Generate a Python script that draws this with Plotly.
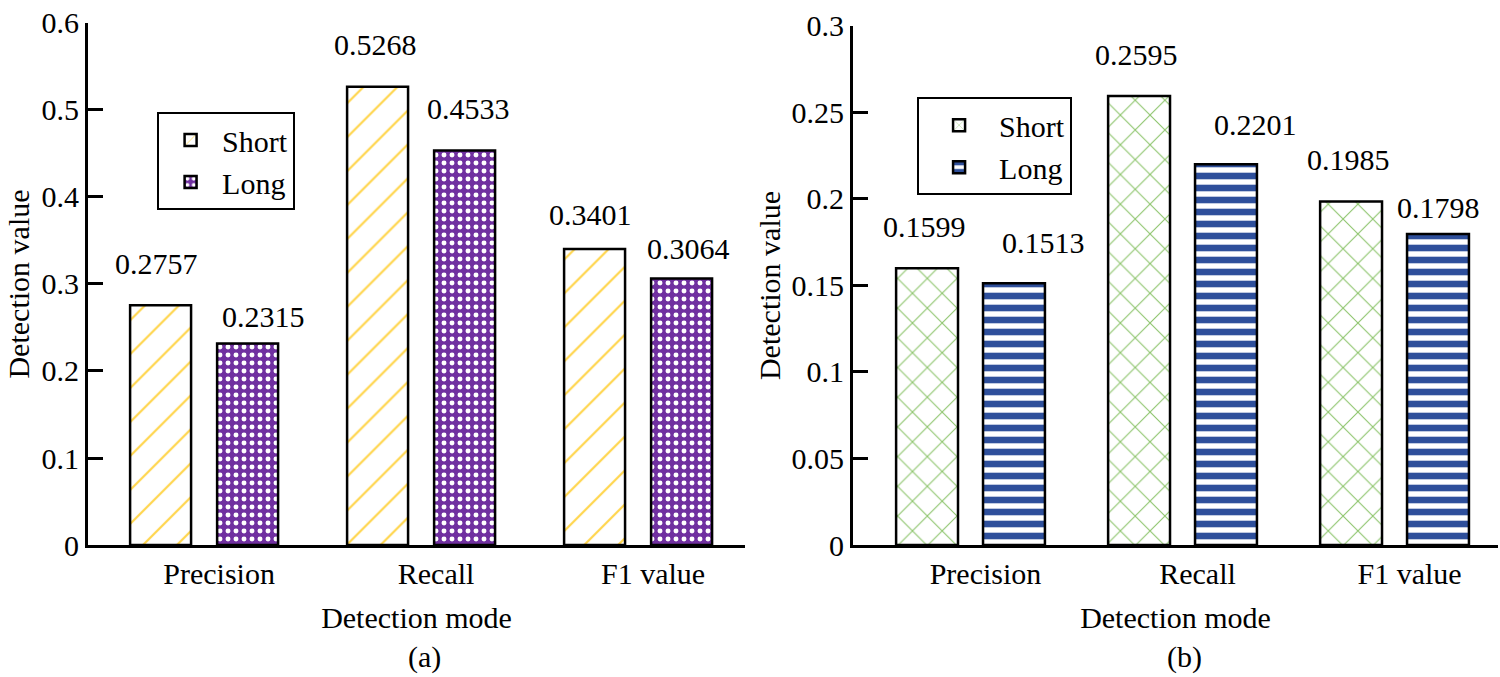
import plotly.graph_objects as go

# ---------------- data ----------------
categories = ["Precision", "Recall", "F1 value"]
series_names = ["Short", "Long"]

short_a = [0.2757, 0.5268, 0.3401]
long_a = [0.2315, 0.4533, 0.3064]

short_b = [0.1599, 0.2595, 0.1985]
long_b = [0.1513, 0.2201, 0.1798]

yticks_a = [0, 0.1, 0.2, 0.3, 0.4, 0.5, 0.6]
yticks_a_text = ["0", "0.1", "0.2", "0.3", "0.4", "0.5", "0.6"]
yticks_b = [0, 0.05, 0.1, 0.15, 0.2, 0.25, 0.3]
yticks_b_text = ["0", "0.05", "0.1", "0.15", "0.2", "0.25", "0.3"]

# label placement tweaks (pixels): (xshift from bar centre, yshift above bar top)
lab_short_a = [(-4, 42), (-2, 42), (-4, 35)]
lab_long_a = [(16, 27), (4, 42), (7, 30)]
lab_short_b = [(-3, 42), (-3, 42), (-3, 42)]
lab_long_b = [(29, 41), (29, 40), (0, 26)]

FONT = "'Liberation Serif', 'Times New Roman', serif"
FS = 30
BAR_HALF_SEP = 43.5  # px from category centre to each bar centre

fig = go.Figure()

line = dict(color="black", width=2.5)

fig.add_trace(go.Bar(
    x=categories, y=short_a, name=series_names[0], xaxis="x", yaxis="y",
    width=0.281, offset=-0.341,
    marker=dict(color="white", line=line,
                pattern=dict(shape="/", bgcolor="white", fgcolor="#FFD54A",
                             size=24, solidity=0.09, fillmode="replace")),
    legend="legend",
))
fig.add_trace(go.Bar(
    x=categories, y=long_a, name=series_names[1], xaxis="x", yaxis="y",
    width=0.281, offset=0.06,
    marker=dict(color="#7030A0", line=line,
                pattern=dict(shape=".", bgcolor="#7030A0", fgcolor="white",
                             size=8, solidity=0.3, fillmode="replace")),
    legend="legend",
))
fig.add_trace(go.Bar(
    x=categories, y=short_b, name=series_names[0], xaxis="x2", yaxis="y2",
    width=0.292, offset=-0.351,
    marker=dict(color="white", line=line,
                pattern=dict(shape="x", bgcolor="white", fgcolor="#8CC46A",
                             size=21, solidity=0.1, fillmode="replace")),
    legend="legend2",
))
fig.add_trace(go.Bar(
    x=categories, y=long_b, name=series_names[1], xaxis="x2", yaxis="y2",
    width=0.292, offset=0.059,
    marker=dict(color="#2E4F9B", line=line,
                pattern=dict(shape="-", bgcolor="white", fgcolor="#2E4F9B",
                             size=12, solidity=0.55, fillmode="replace")),
    legend="legend2",
))

annotations = []


def add_labels(vals, tweaks, side, xref, yref):
    for cat, v, (dx, dy) in zip(categories, vals, tweaks):
        annotations.append(dict(
            x=cat, y=v, xref=xref, yref=yref, text=f"{v:.4f}",
            showarrow=False, xanchor="center", yanchor="middle",
            xshift=side * BAR_HALF_SEP + dx, yshift=dy,
            font=dict(family=FONT, size=FS, color="black"),
        ))


add_labels(short_a, lab_short_a, -1, "x", "y")
add_labels(long_a, lab_long_a, 1, "x", "y")
add_labels(short_b, lab_short_b, -1, "x2", "y2")
add_labels(long_b, lab_long_b, 1, "x2", "y2")

for txt, px in [("(a)", 0.239), ("(b)", 0.778)]:
    annotations.append(dict(
        x=px, y=-0.213, xref="paper", yref="paper", text=txt, showarrow=False,
        xanchor="center", yanchor="middle",
        font=dict(family=FONT, size=FS, color="black"),
    ))

axis_common = dict(showline=True, linecolor="black", linewidth=3,
                   showgrid=False, zeroline=False, automargin=False,
                   tickfont=dict(family=FONT, size=FS, color="black"))

xcommon = dict(axis_common, ticks="", type="category", ticklabelshift=15,
               title=dict(text="Detection mode", standoff=18,
                          font=dict(family=FONT, size=FS, color="black")))
ycommon = dict(axis_common, ticks="inside", ticklen=15, tickwidth=3,
               tickcolor="black",
               title=dict(text="Detection value", standoff=3,
                          font=dict(family=FONT, size=FS, color="black")))

fig.update_layout(
    template="none",
    width=1500, height=677,
    margin=dict(l=88, r=2, t=20, b=132, autoexpand=False),
    paper_bgcolor="white", plot_bgcolor="white",
    font=dict(family=FONT, size=FS, color="black"),
    xaxis=dict(xcommon, domain=[0, 0.466], range=[-0.535, 2.493]),
    yaxis=dict(ycommon, domain=[0, 0.9943], range=[0, 0.6],
               tickvals=yticks_a, ticktext=yticks_a_text, anchor="x"),
    xaxis2=dict(xcommon, domain=[0.5426, 1.0], range=[-0.554, 2.488], anchor="y2"),
    yaxis2=dict(ycommon, domain=[0, 0.9886], range=[0, 0.3],
                tickvals=yticks_b, ticktext=yticks_b_text, anchor="x2"),
    legend=dict(x=0.049, y=0.825, xanchor="left", yanchor="top",
                bordercolor="black", borderwidth=2, bgcolor="white",
                font=dict(family=FONT, size=FS, color="black"),
                tracegroupgap=0, itemwidth=53),
    legend2=dict(x=0.588, y=0.853, xanchor="left", yanchor="top",
                 bordercolor="black", borderwidth=2, bgcolor="white",
                 font=dict(family=FONT, size=FS, color="black"),
                 tracegroupgap=0, itemwidth=70),
    annotations=annotations,
    showlegend=True,
)

fig.write_html(
    "out.html",
    config={"displayModeBar": False},
    post_script="document.body.style.margin='0px';document.body.style.overflow='hidden';",
)
